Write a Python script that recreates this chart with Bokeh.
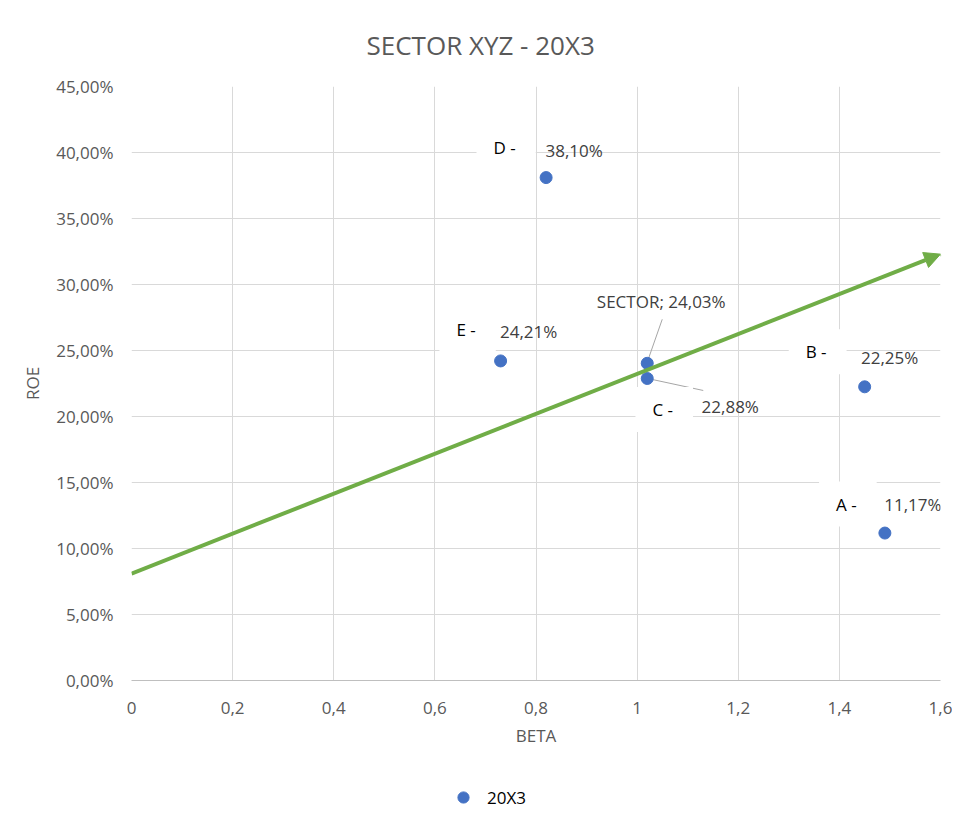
from bokeh.plotting import figure
from bokeh.layouts import column
from bokeh.models import (ColumnDataSource, FixedTicker, Arrow, NormalHead, Legend,
                          LegendItem, Range1d)
from bokeh.embed import file_html
from bokeh.resources import INLINE
from bokeh.core.properties import value

# ---------------- data ----------------
companies = ["A -", "B -", "C -", "D -", "E -"]
company_beta = [1.49, 1.45, 1.02, 0.82, 0.73]
company_roe = [11.17, 22.25, 22.88, 38.10, 24.21]
sector_name = "SECTOR"
sector_beta = 1.02
sector_roe = 24.03
series_name = "20X3"
trend_beta = [0.0, 1.6]
trend_roe = [8.1, 32.3]
x_ticks = [0, 0.2, 0.4, 0.6, 0.8, 1.0, 1.2, 1.4, 1.6]
x_tick_labels = ["0", "0,2", "0,4", "0,6", "0,8", "1", "1,2", "1,4", "1,6"]
y_ticks = [0, 5, 10, 15, 20, 25, 30, 35, 40, 45]
y_tick_labels = ["0,00%", "5,00%", "10,00%", "15,00%", "20,00%", "25,00%",
                 "30,00%", "35,00%", "40,00%", "45,00%"]
title_text = "SECTOR XYZ - 20X3"
x_title = "BETA"
y_title = "ROE"

# ---------------- styling / layout ----------------
W = 952
H1, H2 = 760, 55
BL, BR, BT, BB = 131, 12, 86, 80
FW = W - BL - BR
FH = H1 - BT - BB
XPPU = FW / (x_ticks[-1] - x_ticks[0])
YPPU = FH / (y_ticks[-1] - y_ticks[0])
FONT = "Open Sans"
GRAY = "#595959"
VAL = "#404040"
BLUE = "#4472C4"
GREEN = "#70AD47"

# label offsets in px (dx right, dy up)
name_dx = [-37, -47, 17, -40, -33]
name_dy = [29, 35, -31, 30, 31]
val_dx = [28, 25, 83, 28, 28]
val_dy = [29, 29, -28, 27, 29]
sector_dx, sector_dy = 14, 62


def fmt(v):
    return f"{v:.2f}".replace(".", ",") + "%"


p = figure(width=W, height=H1, x_range=Range1d(x_ticks[0], x_ticks[-1]),
           y_range=Range1d(y_ticks[0], y_ticks[-1]),
           output_backend="svg", toolbar_location=None,
           min_border_left=BL, min_border_right=BR, min_border_top=BT,
           min_border_bottom=BB, title=title_text)
p.outline_line_color = None
p.background_fill_color = "white"
p.border_fill_color = "white"

p.title.text_font = FONT
p.title.text_font_size = "26px"
p.title.text_font_style = "normal"
p.title.text_color = GRAY
p.title.align = "left"
p.title.offset = 235
p.title.standoff = 48

for g in (p.xgrid, p.ygrid):
    g.grid_line_color = "#d9d9d9"
    g.grid_line_width = 1

p.xaxis.ticker = FixedTicker(ticks=x_ticks)
p.xaxis.major_label_overrides = dict(zip(x_ticks, x_tick_labels))
p.yaxis.ticker = FixedTicker(ticks=y_ticks)
p.yaxis.major_label_overrides = dict(zip(y_ticks, y_tick_labels))
p.xaxis.axis_label = x_title
p.yaxis.axis_label = y_title
for ax in (p.xaxis, p.yaxis):
    ax.major_tick_line_color = None
    ax.minor_tick_line_color = None
    ax.major_tick_out = 0
    ax.major_tick_in = 0
    ax.minor_tick_out = 0
    ax.major_label_text_font = FONT
    ax.major_label_text_font_size = "17px"
    ax.major_label_text_color = GRAY
    ax.axis_label_text_font = FONT
    ax.axis_label_text_font_size = "17px"
    ax.axis_label_text_font_style = "normal"
    ax.axis_label_text_color = GRAY
p.xaxis.axis_line_color = "#bfbfbf"
p.yaxis.axis_line_color = None
p.xaxis.major_label_standoff = 21
p.xaxis.axis_label_standoff = 7
p.yaxis.major_label_standoff = 18
p.yaxis.axis_label_standoff = 9

# trend arrow
p.add_layout(Arrow(end=NormalHead(size=16, fill_color=GREEN, line_color=GREEN, line_width=1),
                   x_start=trend_beta[0], y_start=trend_roe[0],
                   x_end=trend_beta[1], y_end=trend_roe[1],
                   line_color=GREEN, line_width=4))

# leader lines
c_i = companies.index("C -")
lead_x0 = [sector_beta + 15 / XPPU, company_beta[c_i] + 5 / XPPU]
lead_y0 = [sector_roe + 44 / YPPU, company_roe[c_i] - 1 / YPPU]
lead_x1 = [sector_beta + 1 / XPPU, company_beta[c_i] + 56 / XPPU]
lead_y1 = [sector_roe + 4 / YPPU, company_roe[c_i] - 12 / YPPU]
p.segment(lead_x0, lead_y0, lead_x1, lead_y1, line_color="#a6a6a6", line_width=1)

# name labels with white boxes
name_src = ColumnDataSource(dict(x=company_beta, y=company_roe, text=companies,
                                 dx=name_dx, dy=[-d for d in name_dy]))
p.text(x="x", y="y", text="text", source=name_src, x_offset="dx", y_offset="dy",
       text_align="center", text_baseline="middle", text_font=value(FONT),
       text_font_size="17px", text_color="black",
       background_fill_color="white",
       padding=dict(left=17, right=20, top=11, bottom=11))

# value labels
val_src = ColumnDataSource(dict(x=company_beta, y=company_roe,
                                text=[fmt(v) for v in company_roe],
                                dx=val_dx, dy=[-d for d in val_dy]))
p.text(x="x", y="y", text="text", source=val_src, x_offset="dx", y_offset="dy",
       text_align="center", text_baseline="middle", text_font=value(FONT),
       text_font_size="17px", text_color=VAL)

sec_src = ColumnDataSource(dict(x=[sector_beta], y=[sector_roe],
                                text=[f"{sector_name}; {fmt(sector_roe)}"]))
p.text(x="x", y="y", text="text", source=sec_src, x_offset=sector_dx, y_offset=-sector_dy,
       text_align="center", text_baseline="middle", text_font=value(FONT),
       text_font_size="17px", text_color=VAL)

# points
pt_src = ColumnDataSource(dict(x=company_beta + [sector_beta], y=company_roe + [sector_roe]))
p.scatter(x="x", y="y", source=pt_src, size=12, color=BLUE)

# ---------------- legend strip (separate figure below the chart) ----------------
p2 = figure(width=W, height=H2, x_range=Range1d(10, 11), y_range=Range1d(100, 101),
            output_backend="svg", toolbar_location=None,
            x_axis_location=None, y_axis_location=None,
            min_border_left=0, min_border_right=0, min_border_top=0, min_border_bottom=0)
p2.grid.visible = False
p2.outline_line_color = None
p2.background_fill_color = "white"
p2.border_fill_color = "white"
r2 = p2.scatter(x="x", y="y", source=pt_src, size=12, color=BLUE)
legend = Legend(items=[LegendItem(label=series_name, renderers=[r2])],
                location=(318, 4), orientation="horizontal",
                border_line_color=None, background_fill_alpha=0,
                padding=0, margin=0, glyph_width=28, glyph_height=28,
                label_standoff=10, label_text_font=FONT,
                label_text_font_size="17px", label_text_color="black")
p2.add_layout(legend)

layout = column(p, p2, spacing=0)
open("out.html", "w").write(file_html(layout, INLINE))
